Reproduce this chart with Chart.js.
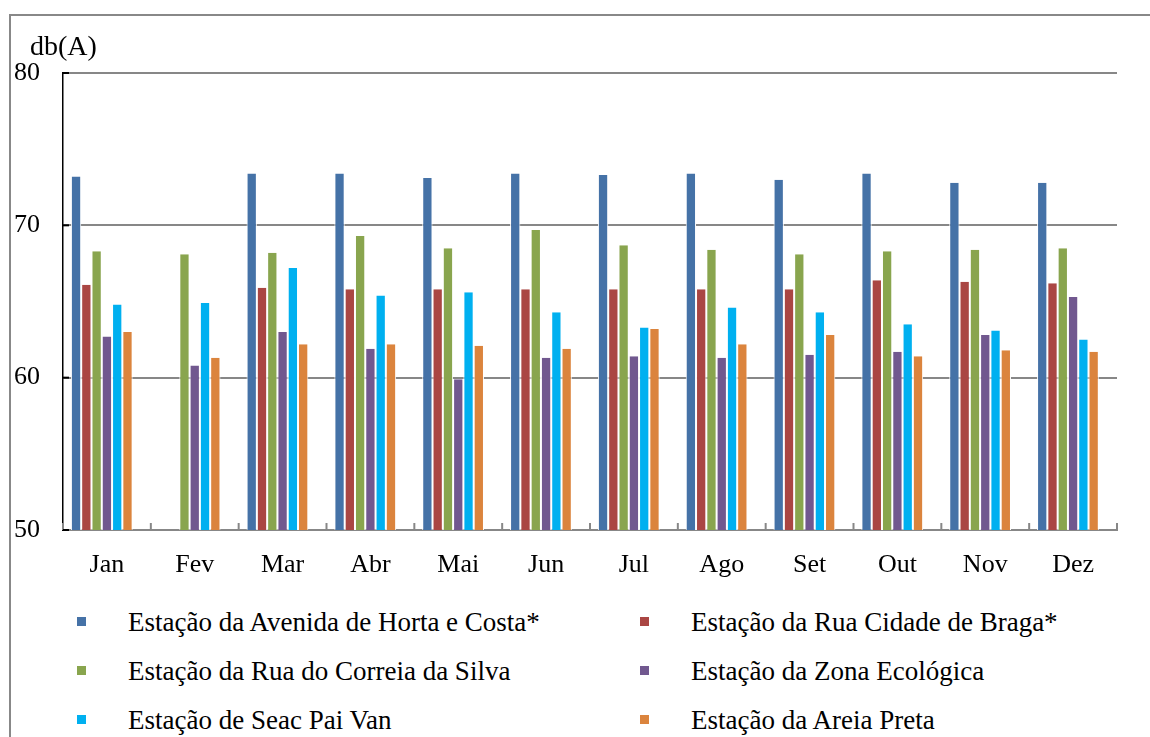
<!DOCTYPE html>
<html><head><meta charset="utf-8">
<script src="https://cdn.jsdelivr.net/npm/chart.js@4.4.0/dist/chart.umd.min.js"></script>
<style>
html,body{margin:0;padding:0;background:#fff;width:1150px;height:737px;overflow:hidden;font-family:"Liberation Serif","Times New Roman",serif;color:#000;}
#frame{position:absolute;left:9px;top:14px;width:1300px;height:900px;border-left:2px solid #888;border-top:2px solid #888;}
#wrap{position:absolute;left:0;top:0;width:1150px;height:600px;}
#unit{position:absolute;left:30px;top:31px;font-size:28px;line-height:30px;white-space:nowrap;}
.item{position:absolute;font-size:27px;line-height:30px;white-space:nowrap;}
.sw{position:absolute;width:9px;height:9px;}
</style></head>
<body>
<div id="frame"></div>
<div id="wrap"><canvas id="c" width="1150" height="600"></canvas></div>
<div id="unit">db(A)</div>
<div id="legend"></div>
<script>
const months = ['Jan','Fev','Mar','Abr','Mai','Jun','Jul','Ago','Set','Out','Nov','Dez'];
const yTicks = [50, 60, 70, 80];
const unitLabel = 'db(A)';
const seriesNames = [
  'Estação da Avenida de Horta e Costa*',
  'Estação da Rua Cidade de Braga*',
  'Estação da Rua do Correia da Silva',
  'Estação da Zona Ecológica',
  'Estação de Seac Pai Van',
  'Estação da Areia Preta'
];
const seriesColors = ['#4572A7','#AA4643','#89A54E','#71588F','#00B0F0','#DB843D'];
const hortaCosta    = [73.2, null, 73.4, 73.4, 73.1, 73.4, 73.3, 73.4, 73.0, 73.4, 72.8, 72.8];
const cidadeBraga   = [66.1, null, 65.9, 65.8, 65.8, 65.8, 65.8, 65.8, 65.8, 66.4, 66.3, 66.2];
const correiaSilva  = [68.3, 68.1, 68.2, 69.3, 68.5, 69.7, 68.7, 68.4, 68.1, 68.3, 68.4, 68.5];
const zonaEcologica = [62.7, 60.8, 63.0, 61.9, 59.9, 61.3, 61.4, 61.3, 61.5, 61.7, 62.8, 65.3];
const seacPaiVan    = [64.8, 64.9, 67.2, 65.4, 65.6, 64.3, 63.3, 64.6, 64.3, 63.5, 63.1, 62.5];
const areiaPreta    = [63.0, 61.3, 62.2, 62.2, 62.1, 61.9, 63.2, 62.2, 62.8, 61.4, 61.8, 61.7];
const emptySlot     = [null, null, null, null, null, null, null, null, null, null, null, null];

const seriesData = [hortaCosta, cidadeBraga, correiaSilva, zonaEcologica, seacPaiVan, areiaPreta];

const FONT = 'Liberation Serif';

const datasets = seriesData.map((d, i) => ({
  label: seriesNames[i],
  data: d,
  backgroundColor: seriesColors[i],
  borderColor: '#ffffff',
  borderWidth: {left: 1, right: 1, top: 0, bottom: 0},
  borderSkipped: false,
  barPercentage: 1.0,
  categoryPercentage: 0.82
}));
datasets.push({label: '', data: emptySlot, backgroundColor: 'rgba(0,0,0,0)', barPercentage: 1.0, categoryPercentage: 0.82});

const innerTicks = {
  id: 'innerTicks',
  afterDraw(chart) {
    const {ctx, chartArea: a} = chart;
    const x = chart.scales.x, y = chart.scales.y;
    ctx.save();
    ctx.lineWidth = 2;
    ctx.strokeStyle = '#878787';
    for (let i = 0; i <= months.length; i++) {
      const px = x.getPixelForValue(i - 0.5);
      ctx.beginPath(); ctx.moveTo(px, a.bottom); ctx.lineTo(px, a.bottom - 7); ctx.stroke();
    }
    ctx.strokeStyle = '#000';
    y.ticks.forEach(t => {
      const py = y.getPixelForValue(t.value);
      ctx.beginPath(); ctx.moveTo(a.left, py); ctx.lineTo(a.left + 6, py); ctx.stroke();
    });
    ctx.restore();
  }
};

new Chart(document.getElementById('c'), {
  type: 'bar',
  data: {labels: months, datasets},
  plugins: [innerTicks],
  options: {
    responsive: false,
    animation: false,
    layout: {padding: {left: 0, right: 33, top: 73, bottom: 0}},
    plugins: {legend: {display: false}, tooltip: {enabled: false}, title: {display: false}},
    scales: {
      x: {
        grid: {display: false, drawTicks: false},
        border: {display: true, color: '#878787', width: 2},
        ticks: {color: '#000', font: {family: FONT, size: 26}, padding: 20, maxRotation: 0},
        afterFit(s) { s.height = 70; }
      },
      y: {
        min: yTicks[0], max: yTicks[yTicks.length - 1],
        afterBuildTicks(s) { s.ticks = yTicks.map(v => ({value: v})); },
        ticks: {color: '#000', font: {family: FONT, size: 26}, padding: 23},
        grid: {color: c => (c.tick && c.tick.value === yTicks[0]) ? 'rgba(0,0,0,0)' : '#878787', lineWidth: 2, drawTicks: false},
        border: {display: true, color: '#000', width: 1.5},
        afterFit(s) { s.width = 63; }
      }
    }
  }
});

document.getElementById('unit').textContent = unitLabel;
const legend = document.getElementById('legend');
const colX = [77, 640];
const rowY = [622, 671, 720];
seriesNames.forEach((name, i) => {
  const col = i % 2, row = Math.floor(i / 2);
  const sw = document.createElement('div');
  sw.className = 'sw';
  sw.style.left = colX[col] + 'px';
  sw.style.top = (rowY[row] - 5) + 'px';
  sw.style.background = seriesColors[i];
  legend.appendChild(sw);
  const t = document.createElement('div');
  t.className = 'item';
  t.textContent = name;
  t.style.left = (colX[col] + 51) + 'px';
  t.style.top = (rowY[row] - 15) + 'px';
  legend.appendChild(t);
});
</script>
</body></html>
